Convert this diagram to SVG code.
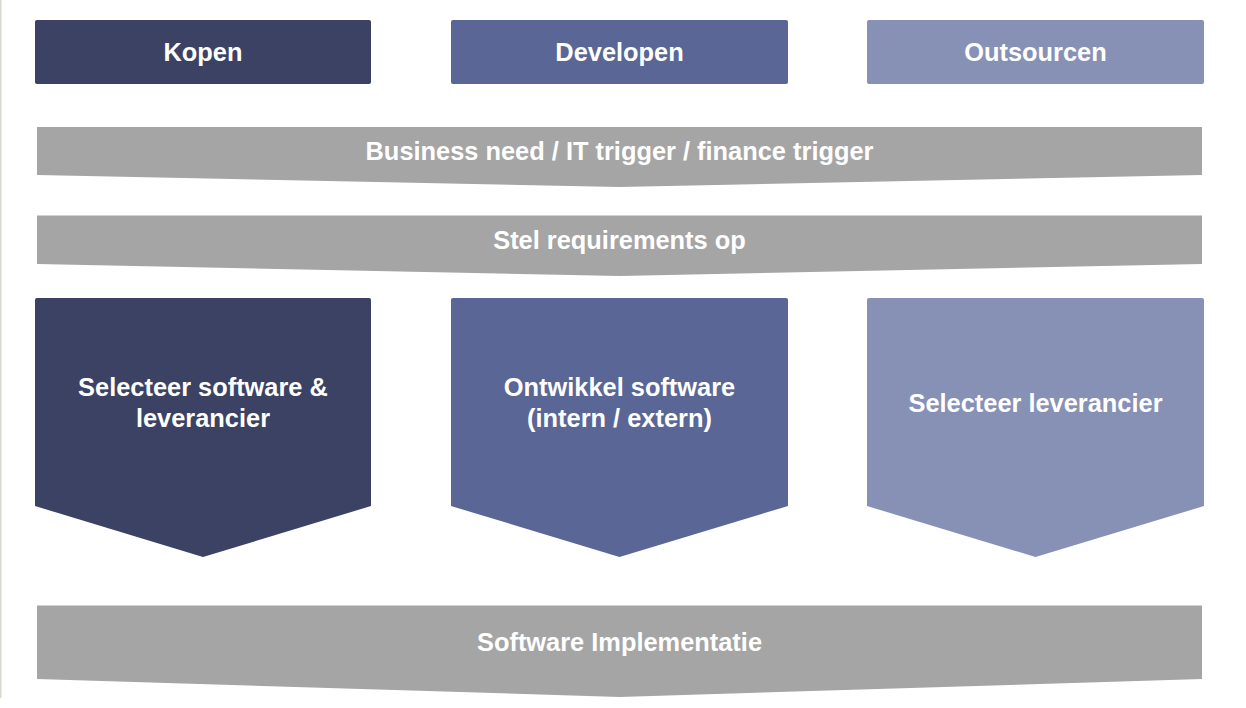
<svg xmlns="http://www.w3.org/2000/svg" width="1246" height="708" viewBox="0 0 1246 708">
  <style>
    .lbl { font-family: "Liberation Sans", Arial, sans-serif; font-weight: bold; font-size: 25.4px; fill: #ffffff; text-anchor: middle; }
    .band { fill: #a5a5a5; }
    .c1 { fill: #3b4263; }
    .c2 { fill: #596696; }
    .c3 { fill: #8791b6; }
  </style>
  <rect x="0" y="0" width="1246" height="708" fill="#ffffff"/>
  <rect x="0" y="0" width="1.5" height="698" fill="#d8d7cb"/>

  <g id="kopen">
    <rect class="c1" x="35" y="20" width="336" height="64" rx="2"/>
    <text class="lbl" x="203" y="61">Kopen</text>
  </g>
  <g id="developen">
    <rect class="c2" x="451" y="20" width="337" height="64" rx="2"/>
    <text class="lbl" x="619.5" y="61">Developen</text>
  </g>
  <g id="outsourcen">
    <rect class="c3" x="867" y="20" width="337" height="64" rx="2"/>
    <text class="lbl" x="1035.5" y="61">Outsourcen</text>
  </g>

  <g id="trigger">
    <polygon class="band" points="37,127 1202,127 1202,175 619.5,187 37,175"/>
    <text class="lbl" x="619.5" y="160">Business need / IT trigger / finance trigger</text>
  </g>
  <g id="requirements">
    <polygon class="band" points="37,215.5 1202,215.5 1202,264 619.5,276 37,264"/>
    <text class="lbl" x="619.5" y="248.5">Stel requirements op</text>
  </g>

  <g id="selecteer-software">
    <path class="c1" d="M37,298 H369 Q371,298 371,300 V506 L203,557 L35,506 V300 Q35,298 37,298 Z"/>
    <text class="lbl" x="203" y="395.5">Selecteer software &amp;</text>
    <text class="lbl" x="203" y="426.5">leverancier</text>
  </g>
  <g id="ontwikkel-software">
    <path class="c2" d="M453,298 H786 Q788,298 788,300 V506 L619.5,557 L451,506 V300 Q451,298 453,298 Z"/>
    <text class="lbl" x="619.5" y="395.5">Ontwikkel software</text>
    <text class="lbl" x="619.5" y="426.5">(intern / extern)</text>
  </g>
  <g id="selecteer-leverancier">
    <path class="c3" d="M869,298 H1202 Q1204,298 1204,300 V506 L1035.5,557 L867,506 V300 Q867,298 869,298 Z"/>
    <text class="lbl" x="1035.5" y="412">Selecteer leverancier</text>
  </g>

  <g id="implementatie">
    <polygon class="band" points="37,605.5 1202,605.5 1202,679 619.5,697 37,679"/>
    <text class="lbl" x="619.5" y="651">Software Implementatie</text>
  </g>

  <g id="connectors"></g>
</svg>
